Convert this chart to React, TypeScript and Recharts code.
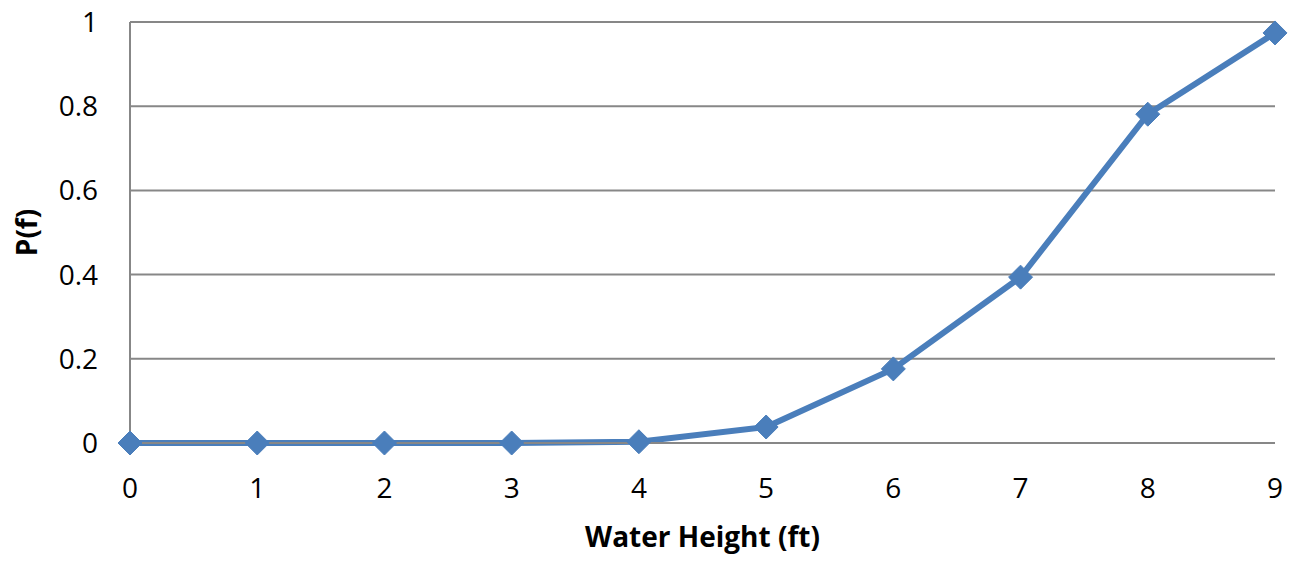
import React from 'react';
import { LineChart, Line, XAxis, YAxis, CartesianGrid } from 'recharts';

const heights = [0, 1, 2, 3, 4, 5, 6, 7, 8, 9];
const probabilities = [0, 0, 0, 0, 0.003, 0.038, 0.176, 0.394, 0.781, 0.974];
const xTicks = [0, 1, 2, 3, 4, 5, 6, 7, 8, 9];
const yTicks = [0, 0.2, 0.4, 0.6, 0.8, 1];

const data = heights.map((h, i) => ({ h, p: probabilities[i] }));

const FONT = '"Open Sans", sans-serif';
const LINE = '#4a7ebb';
const GRID = '#878787';

const Diamond = (props: any) => {
  const { cx, cy } = props;
  if (cx == null || cy == null) return null;
  const r = 12;
  return (
    <polygon
      points={`${cx},${cy - r} ${cx + r},${cy} ${cx},${cy + r} ${cx - r},${cy}`}
      fill={LINE}
      stroke={LINE}
      strokeWidth={1}
    />
  );
};

export default function App() {
  return (
    <div style={{ position: 'absolute', left: 0, top: 0, width: 1296, height: 561, background: '#fff' }}>
      <LineChart
        width={1296}
        height={561}
        data={data}
        margin={{ top: 22, right: 21, bottom: 0, left: 0 }}
      >
        <CartesianGrid vertical={false} stroke={GRID} strokeWidth={2} horizontalValues={yTicks} />
        <XAxis
          dataKey="h"
          type="number"
          domain={[0, 9]}
          ticks={xTicks}
          interval={0}
          height={118}
          axisLine={{ stroke: GRID, strokeWidth: 2 }}
          tickLine={false}
          tickSize={6}
          tickMargin={29}
          tick={{ fontFamily: FONT, fontSize: 28, fill: '#000' }}
          label={{
            value: 'Water Height (ft)',
            position: 'insideBottom',
            offset: 14,
            style: { fontFamily: FONT, fontSize: 28, fontWeight: 700, fill: '#000' },
          }}
        />
        <YAxis
          type="number"
          domain={[0, 1]}
          ticks={yTicks}
          width={130}
          axisLine={{ stroke: GRID, strokeWidth: 2 }}
          tickLine={false}
          tickSize={6}
          tickMargin={26}
          tick={{ fontFamily: FONT, fontSize: 28, fill: '#000' }}
          label={{
            value: 'P(f)',
            angle: -90,
            position: 'insideLeft',
            offset: 27,
            style: { fontFamily: FONT, fontSize: 28, fontWeight: 700, fill: '#000', textAnchor: 'middle' },
          }}
        />
        <Line
          type="linear"
          dataKey="p"
          stroke={LINE}
          strokeWidth={6}
          dot={<Diamond />}
          activeDot={false}
          isAnimationActive={false}
        />
      </LineChart>
    </div>
  );
}
